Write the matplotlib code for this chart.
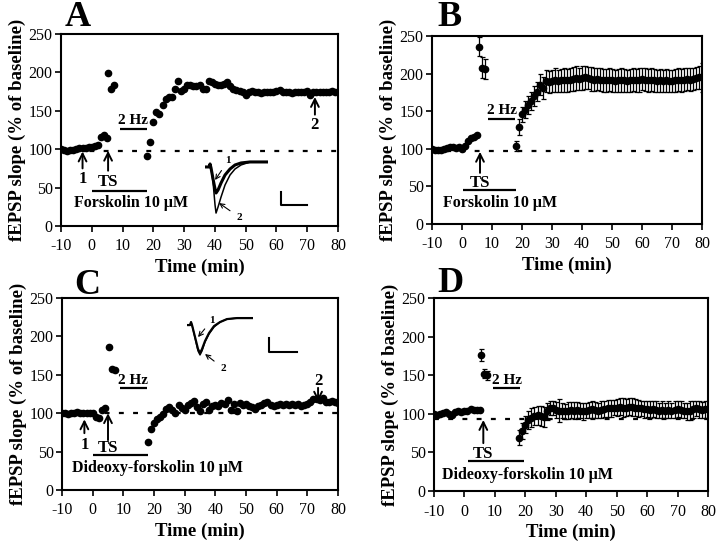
import matplotlib
matplotlib.use('Agg')
import matplotlib.pyplot as plt
import numpy as np

plt.rcParams['font.family'] = ['Liberation Serif', 'DejaVu Serif']
plt.rcParams['axes.unicode_minus'] = False

# ---------------- data ----------------
xticks = [-10, 0, 10, 20, 30, 40, 50, 60, 70, 80]
yticks = [0, 50, 100, 150, 200, 250]

# Panel A (single experiment, forskolin)
A_base_t = [-10, -9, -8, -7, -6, -5, -4, -3, -2, -1, 0, 1, 2, 3, 4, 5]
A_base = [100, 99, 98, 99, 99, 100, 101, 102, 102, 103, 103, 104, 106, 116, 118, 115]
A_peak_t = [5.2, 6.2, 7.2]
A_peak = [199, 179, 183]
A_post_t = list(range(18, 81))
A_post = [91, 110, 136, 148, 146, 157, 166, 168, 168, 179,
          189, 176, 179, 183, 184, 182, 182, 183, 179, 178,
          189, 188, 185, 184, 183, 185, 187, 182, 178, 177,
          176, 174, 171, 175, 176, 174, 175, 173, 174, 175,
          174, 175, 176, 177, 175, 174, 175, 173, 174, 175,
          174, 175, 176, 170, 174, 175, 174, 175, 174, 175,
          176, 175, 175]

# Panel B (mean +/- SEM, forskolin)
B_base_t = [-10, -9, -8, -7, -6, -5, -4, -3, -2, -1, 0, 1, 2, 3, 4, 5]
B_base = [100, 99, 98, 99, 100, 101, 103, 102, 101, 102, 100, 104, 110, 114, 116, 119]
B_peak_t = [5.6, 6.7, 7.8]
B_peak = [236, 208, 206]
B_peak_err = [13, 14, 13]
B_post_t = list(range(18, 81))
B_post = [104, 129, 146, 152, 158, 163, 170, 176, 185, 181,
          190, 189, 190, 191, 190, 191, 192, 191, 192, 193,
          194, 193, 194, 195, 194, 193, 192, 193, 192, 191,
          191, 192, 191, 190, 191, 192, 191, 190, 191, 192,
          191, 192, 193, 192, 191, 192, 191, 190, 191, 190,
          191, 190, 190, 191, 192, 191, 192, 193, 192, 193,
          194, 195, 195]
B_post_err = [7, 10, 10, 11, 12, 12, 13, 13, 14, 15,
              15, 15, 15, 16, 15, 15, 16, 15, 15, 16,
              16, 15, 16, 15, 15, 16, 15, 15, 15, 15,
              15, 15, 15, 15, 15, 16, 15, 15, 15, 15,
              15, 16, 15, 15, 15, 15, 15, 15, 15, 15,
              15, 15, 15, 15, 15, 15, 15, 15, 15, 15,
              15, 15, 19]

# Panel C (single experiment, dideoxy-forskolin)
C_base_t = [-10, -9, -8, -7, -6, -5, -4, -3, -2, -1, 0, 1, 2, 3, 4]
C_base = [100, 100, 99, 100, 100, 101, 100, 100, 100, 100, 100, 95, 94, 104, 107]
C_peak_t = [5.3, 6.3, 7.3]
C_peak = [186, 158, 156]
C_post_t = list(range(18, 81))
C_post = [63, 80, 87, 93, 95, 99, 106, 108, 104, 100,
          111, 107, 104, 111, 113, 116, 108, 103, 112, 114,
          104, 110, 111, 109, 113, 112, 117, 104, 112, 103,
          113, 111, 112, 109, 108, 105, 109, 111, 113, 114,
          111, 109, 111, 112, 111, 112, 111, 112, 111, 112,
          110, 111, 112, 114, 118, 118, 117, 120, 115, 114,
          116, 114, 113]

# Panel D (mean +/- SEM, dideoxy-forskolin)
D_base_t = [-10, -9, -8, -7, -6, -5, -4, -3, -2, -1, 0, 1, 2, 3, 4, 5]
D_base = [100, 99, 100, 101, 102, 100, 99, 102, 103, 102, 103, 104, 106, 105, 105, 105]
D_peak_t = [5.4, 6.4, 7.3]
D_peak = [176, 152, 150]
D_peak_err = [8, 6, 6]
D_post_t = list(range(18, 81))
D_post = [69, 78, 86, 92, 95, 97, 98, 97, 96, 103,
          108, 107, 105, 104, 104, 103, 104, 105, 104, 105,
          104, 103, 104, 105, 106, 105, 104, 105, 106, 107,
          107, 108, 108, 109, 108, 108, 109, 109, 108, 107,
          107, 106, 106, 105, 106, 105, 104, 105, 104, 105,
          104, 105, 106, 105, 104, 103, 104, 106, 107, 106,
          105, 106, 106]
D_post_err = [10, 10, 11, 12, 12, 12, 12, 13, 13, 11,
              9, 9, 10, 15, 10, 10, 11, 10, 11, 10,
              10, 11, 10, 10, 11, 10, 10, 11, 10, 11,
              11, 10, 11, 11, 12, 11, 11, 12, 11, 11,
              10, 11, 10, 11, 10, 11, 10, 11, 10, 11,
              10, 11, 10, 11, 10, 11, 12, 11, 10, 11,
              10, 11, 11]

# inset traces (schematic fEPSP waveforms, arbitrary units)
A_tr_x = [0, 4, 5, 6, 8, 10, 11, 13, 16, 20, 25, 30, 36, 45, 55, 63]
A_tr1 = [0, 0, 3, -1, -12, -22, -26, -23, -16, -8, -2, 2, 4, 5, 5, 5]
A_tr2 = [0, 0, 3, -1, -15, -38, -46, -40, -30, -18, -8, -2, 2, 5, 5, 5]
C_tr_x = [0, 3, 4, 5, 8, 11, 13, 15, 18, 22, 27, 33, 40, 50, 66]
C_tr1 = [0, 0, 3, 0, -12, -24, -28, -24, -16, -8, -1, 3, 6, 7, 7]
C_tr2 = [0, 0, 3, 0, -13, -26, -30, -26, -17, -9, -2, 3, 6, 7, 7]

# ---------------- figure ----------------
fig = plt.figure(figsize=(7.2, 5.46), dpi=100)

positions = {
    'A': [61 / 720, 1 - 226 / 546, 277 / 720, 192 / 546],
    'B': [432 / 720, 1 - 224 / 546, 270 / 720, 188 / 546],
    'C': [62 / 720, 1 - 490 / 546, 276 / 720, 192 / 546],
    'D': [434 / 720, 1 - 491 / 546, 274 / 720, 193 / 546],
}
letter_pos = {'A': (78, 17), 'B': (449, 17), 'C': (87, 285), 'D': (450, 283)}

BOLD = dict(fontweight='bold', color='black')


def setup(key):
    ax = fig.add_axes(positions[key])
    ax.set_xlim(-10, 80)
    ax.set_ylim(0, 250)
    ax.set_xticks(xticks)
    ax.set_yticks(yticks)
    ax.tick_params(direction='out', length=4, width=1.2, labelsize=11.5)
    ax.tick_params(axis='x', pad=5)
    ax.tick_params(axis='y', pad=2)
    for s in ax.spines.values():
        s.set_linewidth(1.5)
    ax.set_xlabel('Time (min)', fontsize=13.5, labelpad=3, **BOLD)
    ax.set_ylabel('fEPSP slope (% of baseline)', fontsize=13.5, labelpad=2, **BOLD)
    lx, ly = letter_pos[key]
    fig.text(lx / 720, 1 - ly / 546, key, fontsize=26, ha='center', va='center', **BOLD)
    return ax


def arrow(ax, x, y_tail, y_head, lw=1.4, ms=14):
    ax.annotate('', xy=(x, y_head), xytext=(x, y_tail),
                arrowprops=dict(arrowstyle='->', lw=lw, color='k', mutation_scale=ms,
                                shrinkA=0, shrinkB=0))


def label(ax, x, y, s, size=12, ha='center'):
    ax.text(x, y, s, ha=ha, va='center', fontsize=size, **BOLD)


def hbar(ax, x0, x1, y):
    ax.plot([x0, x1], [y, y], color='k', lw=1.6, solid_capstyle='butt')


def dashed(ax, y):
    ax.plot([-10, 80], [y, y], color='k', lw=1.6, ls=(0, (2.2, 4.2)), zorder=1)


def dots(ax, t, v):
    ax.plot(t, v, 'o', color='k', ms=4.5, zorder=3)


def ebar(ax, t, v, e):
    ax.errorbar(t, v, yerr=e, fmt='o', color='k', ms=4.5, elinewidth=0.9,
                capsize=1.8, capthick=0.9, zorder=3)


def scalebar(ax, x0, x1, y0, y1):
    ax.plot([x0, x0, x1], [y1, y0, y0], color='k', lw=1.5, transform=ax.transAxes)


# ----- Panel A -----
ax = setup('A')
dashed(ax, 98)
dots(ax, A_base_t, A_base)
dots(ax, A_peak_t, A_peak)
dots(ax, A_post_t, A_post)
arrow(ax, -3, 75, 97)
label(ax, -3, 61, '1')
arrow(ax, 5.3, 72, 98)
label(ax, 5.3, 57, 'TS')
hbar(ax, 0, 17.8, 46)
label(ax, 12.8, 30, 'Forskolin 10 μM', size=11.5)
label(ax, 13.5, 137, '2 Hz', size=11)
hbar(ax, 9.2, 17.8, 126)
arrow(ax, 72.5, 145, 168)
label(ax, 72.5, 132, '2')
ins = ax.inset_axes([0.52, 0.057, 0.2274, 0.287])
ins.axis('off')
ins.set_xlim(0, 63)
ins.set_ylim(-48, 7)
ins.plot(A_tr_x, A_tr2, color='k', lw=1.1)
ins.plot(A_tr_x, A_tr1, color='k', lw=2.2)
ins.annotate('1', xy=(10, -13), xytext=(23, 6), fontsize=8, ha='center', va='center',
             fontweight='bold', annotation_clip=False,
             arrowprops=dict(arrowstyle='->', lw=0.8, color='k', mutation_scale=8,
                             shrinkA=2, shrinkB=0))
ins.annotate('2', xy=(14, -36), xytext=(34, -50), fontsize=8, ha='center', va='center',
             fontweight='bold', annotation_clip=False,
             arrowprops=dict(arrowstyle='->', lw=0.8, color='k', mutation_scale=8,
                             shrinkA=3, shrinkB=0))
scalebar(ax, 0.794, 0.888, 0.109, 0.177)

# ----- Panel B -----
ax = setup('B')
dashed(ax, 97.5)
dots(ax, B_base_t, B_base)
ebar(ax, B_peak_t, B_peak, B_peak_err)
ebar(ax, B_post_t, B_post, B_post_err)
arrow(ax, 6, 68, 96)
label(ax, 6, 55, 'TS')
hbar(ax, 0.4, 18, 45)
label(ax, 12.8, 28, 'Forskolin 10 μM', size=11.5)
label(ax, 13.2, 151, '2 Hz', size=11)
hbar(ax, 8.8, 17.7, 140)

# ----- Panel C -----
ax = setup('C')
dashed(ax, 100)
dots(ax, C_base_t, C_base)
dots(ax, C_peak_t, C_peak)
dots(ax, C_post_t, C_post)
arrow(ax, -2.7, 74, 92)
label(ax, -2.7, 59, '1')
arrow(ax, 5, 65, 100)
label(ax, 5, 55, 'TS')
hbar(ax, 0, 18, 46)
label(ax, 21, 29, 'Dideoxy-forskolin 10 μM', size=11.5)
label(ax, 13.3, 142, '2 Hz', size=11)
hbar(ax, 8.9, 17.6, 133)
arrow(ax, 73.5, 133, 115)
label(ax, 73.5, 142, '2')
ins = ax.inset_axes([0.453, 0.677, 0.239, 0.234])
ins.axis('off')
ins.set_xlim(0, 66)
ins.set_ylim(-35, 10)
ins.plot(C_tr_x, C_tr2, color='k', lw=1.0)
ins.plot(C_tr_x, C_tr1, color='k', lw=1.6)
ins.annotate('1', xy=(11, -12), xytext=(25, 5), fontsize=8, ha='center', va='center',
             fontweight='bold', annotation_clip=False,
             arrowprops=dict(arrowstyle='->', lw=0.8, color='k', mutation_scale=8,
                             shrinkA=2, shrinkB=0))
ins.annotate('2', xy=(18, -29), xytext=(36, -43), fontsize=8, ha='center', va='center',
             fontweight='bold', annotation_clip=False,
             arrowprops=dict(arrowstyle='->', lw=0.8, color='k', mutation_scale=8,
                             shrinkA=3, shrinkB=0))
scalebar(ax, 0.75, 0.851, 0.719, 0.79)

# ----- Panel D -----
ax = setup('D')
dashed(ax, 93)
dots(ax, D_base_t, D_base)
ebar(ax, D_peak_t, D_peak, D_peak_err)
ebar(ax, D_post_t, D_post, D_post_err)
arrow(ax, 6.2, 62, 92)
label(ax, 6.2, 48, 'TS')
hbar(ax, 1.3, 19.4, 38.5)
label(ax, 20.8, 21, 'Dideoxy-forskolin 10 μM', size=11.5)
label(ax, 14, 143, '2 Hz', size=11)
hbar(ax, 9.5, 18.3, 133)

fig.savefig('out.png', dpi=100)
